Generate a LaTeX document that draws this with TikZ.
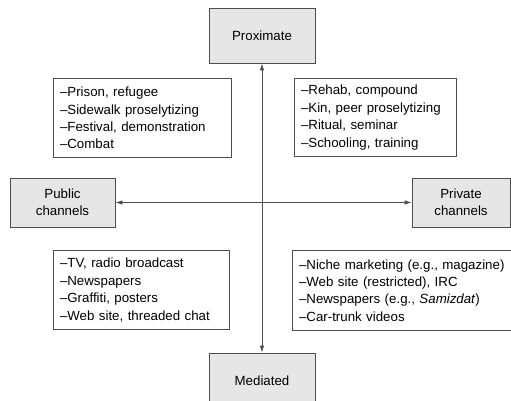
\documentclass[tikz,border=0pt]{standalone}
\usepackage{fontspec}
\setmainfont{Liberation Sans}
\usetikzlibrary{arrows.meta}
\definecolor{boxgray}{HTML}{E6E6E6}
\definecolor{linegray}{HTML}{4D4D4D}
\begin{document}
\begin{tikzpicture}[x=1pt,y=-1pt,
    axisbox/.style={draw=linegray,fill=boxgray,thick,align=center,
      font=\fontsize{13.3}{17}\selectfont,inner sep=0pt},
    listbox/.style={draw=linegray,thick,align=left,inner xsep=7pt,inner ysep=0pt,
      font=\fontsize{13.3}{17.4}\selectfont},
    axisline/.style={thick,linegray,{Latex[length=7pt,width=4.5pt]}-{Latex[length=7pt,width=4.5pt]}}]
      \clip (0,0) rectangle (511,401);
      % axis ends
      \node [axisbox,minimum width=106,minimum height=55] (prox) at (262,35.5) {Proximate};
      \node [axisbox,minimum width=106,minimum height=55] (med) at (262,380.5) {Mediated};
      \node [axisbox,minimum width=105,minimum height=49] (pub) at (62.5,202.5) {Public\\channels};
      \node [axisbox,minimum width=98,minimum height=49] (priv) at (461,202.5) {Private\\channels};
      % quadrants
      \node [listbox,text width=164,minimum height=79] (proxpub) at (142,118)
        {--Prison, refugee\\--Sidewalk proselytizing\\--Festival, demonstration\\--Combat};
      \node [listbox,text width=148,minimum height=78] (proxpriv) at (375,117.5)
        {--Rehab, compound\\--Kin, peer proselytizing\\--Ritual, seminar\\--Schooling, training};
      \node [listbox,text width=162,minimum height=79] (medpub) at (141,290)
        {--TV, radio broadcast\\--Newspapers\\--Graffiti, posters\\--Web site, threaded chat};
      \node [listbox,text width=224,minimum height=80] (medpriv) at (411,290.5)
        {--Niche marketing (e.g., magazine)\\--Web site (restricted), IRC\\--Newspapers (e.g., \textit{Samizdat})\\--Car-trunk videos};
      % axes
      \draw [axisline] (med.north) -- (prox.south);
      \draw [axisline] (pub.east) -- (priv.west);
\end{tikzpicture}
\end{document}
